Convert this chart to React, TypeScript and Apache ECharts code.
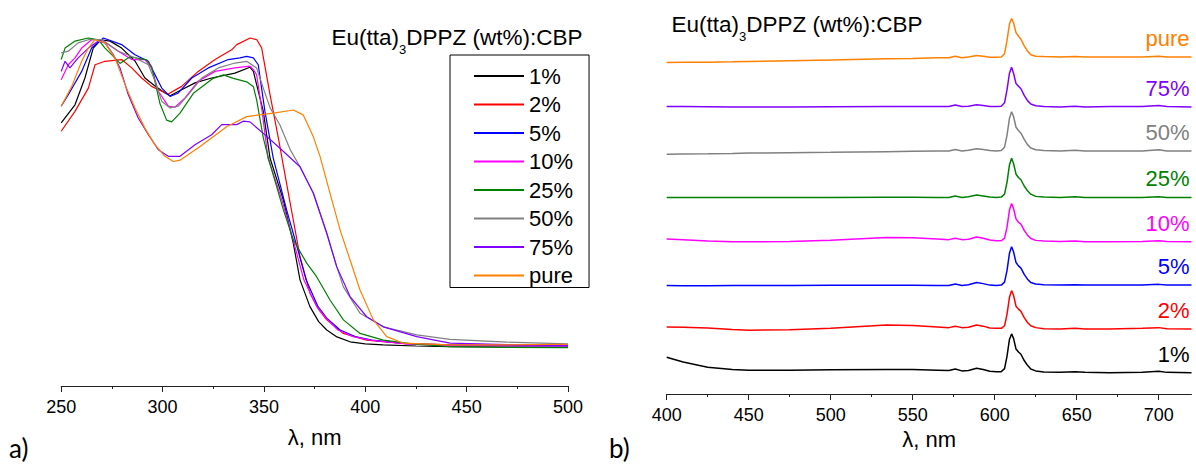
import React, { useEffect, useRef } from "react";
import * as echarts from "echarts";

const NAMES = ["1%", "2%", "5%", "10%", "25%", "50%", "75%", "pure"];
const COLORS = ["#000000", "#ff0000", "#0000ff", "#ff00ff", "#008000", "#808080", "#8000ff", "#ff8000"];

// (a) normalized absorption, [wavelength nm, value]
const ABS_1 = [[250,0.756],[256.8,0.808],[261.7,0.885],[265.8,0.971],[269.6,0.995],[274.1,0.991],[279.8,0.971],[286.4,0.934],[291.3,0.885],[296.3,0.862],[301.2,0.842],[303.7,0.834],[309.4,0.851],[316,0.871],[324.2,0.885],[335.7,0.899],[343.1,0.916],[344.8,0.904],[349.7,0.789],[353,0.655],[359.6,0.534],[364.5,0.41],[367.8,0.305],[372.7,0.228],[377,0.185],[381,0.161],[386,0.141],[392.5,0.127],[400,0.121],[408.8,0.118],[425,0.115],[441.8,0.113],[470,0.112],[500,0.112]];
const ABS_2 = [[250,0.732],[256.8,0.789],[263.4,0.856],[266.7,0.923],[271.6,0.933],[279.8,0.938],[284.8,0.914],[289.7,0.885],[294.6,0.861],[299.6,0.847],[302.8,0.839],[309.4,0.861],[317.6,0.904],[325.9,0.938],[334.1,0.966],[336.6,0.981],[343.2,1.0],[346.5,0.995],[348.9,0.971],[353,0.837],[357.1,0.713],[362.5,0.54],[367.8,0.372],[372.8,0.266],[377,0.22],[381,0.19],[389.2,0.151],[400.7,0.132],[420,0.122],[441.8,0.118],[470,0.117],[500,0.117]];
const ABS_5 = [[250,0.804],[253.5,0.837],[260.1,0.904],[265,0.971],[270.8,1.0],[279.8,0.981],[286.4,0.952],[293,0.933],[296.3,0.894],[299.6,0.856],[303.7,0.832],[307.8,0.842],[314.4,0.885],[322.6,0.914],[332.4,0.938],[338.2,0.943],[341.5,0.947],[344.8,0.943],[347.2,0.923],[350.5,0.789],[354.6,0.655],[361.2,0.506],[365.8,0.411],[370.8,0.305],[376.7,0.228],[381,0.195],[387.6,0.161],[395,0.142],[403.3,0.132],[420,0.122],[441.8,0.118],[470,0.116],[500,0.115]];
const ABS_10 = [[250,0.88],[253.5,0.923],[256.8,0.943],[260.1,0.971],[265,0.995],[270,0.995],[278.2,0.962],[284.8,0.938],[291.3,0.938],[294.6,0.914],[297.9,0.847],[302.8,0.804],[306.1,0.801],[311.1,0.828],[317.6,0.876],[325.9,0.904],[335.7,0.914],[343.1,0.919],[344.8,0.909],[346.4,0.894],[349.1,0.79],[352,0.655],[358.9,0.534],[364.8,0.411],[369.7,0.305],[376.1,0.228],[381,0.193],[386.5,0.161],[394,0.142],[402.3,0.132],[420,0.121],[441.8,0.116],[470,0.115],[500,0.115]];
const ABS_25 = [[250,0.938],[251.9,0.971],[256.8,0.991],[263.4,1.0],[268.3,0.995],[271.6,0.971],[274.9,0.952],[279,0.927],[283.9,0.946],[292.2,0.937],[294.6,0.918],[298.7,0.812],[302,0.764],[304.5,0.759],[308.6,0.784],[315.2,0.841],[325,0.884],[330,0.894],[334.9,0.884],[341.5,0.874],[344.8,0.86],[346.4,0.822],[349.7,0.713],[352.2,0.655],[359.6,0.506],[364.5,0.42],[371.1,0.353],[376,0.314],[382.6,0.247],[389.2,0.19],[397.4,0.151],[408.9,0.132],[425,0.12],[441.8,0.113],[470,0.111],[500,0.11]];
const ABS_50 = [[250,0.957],[253.5,0.962],[258.4,0.986],[263.4,0.995],[270,0.995],[278.2,0.962],[286.4,0.943],[293,0.923],[296.3,0.876],[299.6,0.818],[303.7,0.799],[307.8,0.804],[312.7,0.837],[319.3,0.885],[327.5,0.914],[335.7,0.928],[341.5,0.933],[346.4,0.914],[349.7,0.856],[353,0.8],[357.9,0.75],[362.9,0.68],[367.8,0.63],[374.4,0.554],[381,0.439],[385.9,0.343],[389.2,0.285],[397.4,0.209],[408.9,0.17],[425.4,0.147],[441.8,0.134],[470,0.126],[500,0.121]];
const ABS_75 = [[250,0.904],[251.9,0.933],[254.3,0.914],[258.4,0.943],[263.4,0.971],[268.3,0.991],[271.6,0.986],[275.7,0.952],[279,0.914],[283.1,0.837],[288,0.77],[293,0.722],[297.9,0.679],[302.8,0.66],[308.6,0.66],[316,0.693],[324.2,0.722],[329.2,0.751],[336.6,0.751],[339.8,0.761],[343.1,0.759],[349.7,0.726],[357.9,0.683],[367.8,0.63],[374.4,0.554],[381,0.439],[385.9,0.343],[392.5,0.257],[400.7,0.199],[408.9,0.17],[425.4,0.142],[441.8,0.123],[470,0.119],[500,0.117]];
const ABS_PURE = [[250,0.804],[255.2,0.861],[260.1,0.933],[263.4,0.971],[266.7,0.995],[271.6,0.986],[276.5,0.943],[281.5,0.866],[286.4,0.799],[291.3,0.741],[296.3,0.693],[301.2,0.66],[305.3,0.645],[308.6,0.649],[318.5,0.688],[331.6,0.745],[341.5,0.774],[354.6,0.784],[364.5,0.793],[369.4,0.779],[374.4,0.716],[377.7,0.659],[382.6,0.554],[387.6,0.448],[392.5,0.362],[397.4,0.276],[404,0.19],[410.6,0.142],[418.8,0.123],[441.8,0.118],[470,0.118],[500,0.12]];

// (b) emission spectra, shared wavelength grid
const EM_WL = [400,410,425,440,450,475,500,534,550,565,572,576,580,584,589,593,597,601,604,606,607.5,609,610.3,611.5,613,614.5,616,618,620,622,625,630,640,649,655,670,690,700,705,720];
const EM_1 = [0.42,0.29,0.15,0.09,0.07,0.07,0.08,0.09,0.09,0.07,0.06,0.1,0.05,0.06,0.12,0.09,0.04,0.03,0.03,0.11,0.44,0.9,1.05,0.93,0.64,0.56,0.5,0.33,0.2,0.1,0.05,0.02,0.01,0.03,0.01,0.0,0.01,0.04,0.01,0.0];
const EM_2 = [0.04,0.03,0.01,-0.03,-0.05,-0.04,0.0,0.09,0.08,0.04,0.02,0.06,0.02,0.03,0.09,0.06,0.01,0.0,0.0,0.07,0.38,0.84,1.02,0.89,0.6,0.52,0.46,0.29,0.16,0.07,0.02,-0.01,-0.02,0.0,-0.02,-0.02,0.0,0.02,-0.01,-0.02];
const EM_5 = [-0.04,-0.045,-0.045,-0.04,-0.04,-0.04,-0.035,-0.035,-0.035,-0.04,-0.04,0.0,-0.04,-0.02,0.04,0.01,-0.03,-0.04,-0.03,0.05,0.36,0.83,1.01,0.87,0.58,0.49,0.43,0.26,0.13,0.04,0.0,-0.02,-0.03,-0.02,-0.03,-0.03,-0.03,-0.01,-0.03,-0.03];
const EM_10 = [0.02,0.0,-0.04,-0.06,-0.06,-0.05,-0.02,0.06,0.05,0.02,0.0,0.04,0.0,0.01,0.07,0.04,-0.01,-0.03,-0.03,0.04,0.33,0.8,0.98,0.84,0.56,0.47,0.42,0.25,0.12,0.03,-0.02,-0.04,-0.05,-0.04,-0.06,-0.06,-0.05,-0.03,-0.05,-0.06];
const EM_25 = [-0.06,-0.06,-0.06,-0.06,-0.06,-0.06,-0.06,-0.055,-0.055,-0.06,-0.06,-0.02,-0.06,-0.04,0.01,-0.02,-0.05,-0.06,-0.05,0.03,0.35,0.82,1.0,0.86,0.57,0.48,0.42,0.25,0.12,0.03,-0.03,-0.05,-0.06,-0.04,-0.06,-0.06,-0.06,-0.04,-0.06,-0.06];
const EM_50 = [-0.09,-0.085,-0.08,-0.07,-0.06,-0.05,-0.04,-0.02,-0.01,0.0,0.0,0.04,0.0,0.02,0.06,0.04,0.01,0.0,0.01,0.1,0.42,0.88,1.06,0.93,0.64,0.55,0.48,0.31,0.17,0.08,0.03,0.01,0.0,0.02,0.0,0.0,0.0,0.03,0.0,0.0];
const EM_75 = [0.0,0.0,-0.005,-0.01,-0.01,-0.01,-0.005,0.0,0.0,0.0,0.0,0.04,0.0,0.01,0.05,0.03,0.0,0.0,0.01,0.1,0.45,0.9,1.06,0.9,0.62,0.55,0.48,0.3,0.16,0.07,0.02,0.0,-0.01,0.01,-0.01,0.0,0.0,0.03,0.0,-0.01];
const EM_PURE = [-0.11,-0.105,-0.1,-0.09,-0.08,-0.06,-0.04,-0.01,0.0,0.02,0.02,0.06,0.02,0.04,0.08,0.06,0.03,0.03,0.04,0.13,0.48,0.93,1.08,0.96,0.7,0.6,0.52,0.34,0.2,0.1,0.06,0.05,0.04,0.05,0.04,0.04,0.04,0.06,0.04,0.04];
// vertical stacking offsets of the emission spectra
const EM_OFFSETS = [0, 1.2, 2.4, 3.6, 4.8, 6.0, 7.2, 8.5];

const ABS_MINOR_TICKS = [275, 325, 375, 425, 475];
const EM_TICKS = [400, 450, 500, 550, 600, 650, 700];
const EM_MINOR_TICKS = [425, 475, 525, 575, 625, 675];

const TITLE = "{a|Eu(tta)}{s|3}{a|DPPZ (wt%):CBP}";
const AXIS_NAME = "λ, nm";

const FONT = '"Liberation Sans", Arial, sans-serif';
const AXIS_COLOR = "#222222";

export default function App() {
  const ref = useRef<HTMLDivElement>(null);

  useEffect(() => {
    const chart = echarts.init(ref.current as HTMLDivElement, null, { renderer: "svg" });
    const absData = [ABS_1, ABS_2, ABS_5, ABS_10, ABS_25, ABS_50, ABS_75, ABS_PURE];
    const emData = [EM_1, EM_2, EM_5, EM_10, EM_25, EM_50, EM_75, EM_PURE];

    const series: any[] = [];
    NAMES.forEach((name, i) => {
      series.push({
        type: "line",
        name,
        xAxisIndex: 0,
        yAxisIndex: 0,
        data: absData[i],
        symbol: "none",
        silent: true,
        lineStyle: { width: 1.2, color: COLORS[i] },
        itemStyle: { color: COLORS[i] },
      });
    });
    NAMES.forEach((name, i) => {
      series.push({
        type: "line",
        name,
        xAxisIndex: 1,
        yAxisIndex: 1,
        data: EM_WL.map((w, k) => [w, emData[i][k] + EM_OFFSETS[i]]),
        symbol: "none",
        silent: true,
        lineStyle: { width: 1.5, color: COLORS[i] },
        itemStyle: { color: COLORS[i] },
        endLabel: {
          show: true,
          formatter: name,
          color: COLORS[i],
          fontSize: 22,
          fontFamily: FONT,
          align: "right",
          verticalAlign: "middle",
          distance: 0,
          offset: [-2, -18.5],
        },
      });
    });

    const titleRich = {
      a: { fontSize: 22.5, fontFamily: FONT, fontWeight: "normal", color: "#000", lineHeight: 30, verticalAlign: "top" },
      s: { fontSize: 13, fontFamily: FONT, fontWeight: "normal", color: "#000", lineHeight: 13, verticalAlign: "bottom" },
    };

    const minorAxis = (grid: number, min: number, max: number, values: number[]) => ({
      type: "value",
      gridIndex: grid,
      position: "bottom",
      min,
      max,
      axisLine: { show: false, onZero: false },
      splitLine: { show: false },
      axisLabel: { show: false },
      axisTick: { show: true, length: 3, lineStyle: { color: AXIS_COLOR }, customValues: values },
    });

    const mainAxis = (grid: number, min: number, max: number, gap: number, ticks?: number[]) => ({
      type: "value",
      gridIndex: grid,
      position: "bottom",
      min,
      max,
      interval: 50,
      name: AXIS_NAME,
      nameLocation: "middle",
      nameGap: gap,
      nameTextStyle: { fontSize: 22, fontFamily: FONT, color: "#000" },
      axisLine: { show: true, onZero: false, lineStyle: { color: AXIS_COLOR, width: 1 } },
      splitLine: { show: false },
      axisTick: ticks
        ? { show: true, length: 6, lineStyle: { color: AXIS_COLOR }, customValues: ticks }
        : { show: true, length: 6, lineStyle: { color: AXIS_COLOR } },
      axisLabel: ticks
        ? { fontSize: 18, fontFamily: FONT, color: "#000", margin: 12, customValues: ticks }
        : { fontSize: 18, fontFamily: FONT, color: "#000", margin: 12 },
    });

    chart.setOption({
      animation: false,
      backgroundColor: "#ffffff",
      title: [
        { text: TITLE, left: 331.5, top: 26, padding: 0, textStyle: { fontWeight: "normal", rich: titleRich } },
        { text: TITLE, left: 671.5, top: 12.5, padding: 0, textStyle: { fontWeight: "normal", rich: titleRich } },
      ],
      legend: {
        orient: "vertical",
        left: 450,
        top: 55,
        data: NAMES,
        selectedMode: false,
        itemWidth: 50,
        itemHeight: 12,
        itemGap: 6.5,
        padding: [10, 16, 1, 23],
        borderColor: "#000",
        borderWidth: 1,
        itemStyle: { opacity: 0, borderWidth: 0 },
        textStyle: { fontSize: 22, fontFamily: FONT, color: "#000", lineHeight: 22 },
      },
      grid: [
        { left: 61.2, right: 628, top: 34.5, bottom: 80 },
        { left: 666.7, right: 4.5, top: 3, bottom: 72 },
      ],
      xAxis: [
        mainAxis(0, 250, 500, 40),
        minorAxis(0, 250, 500, ABS_MINOR_TICKS),
        mainAxis(1, 400, 720, 32, EM_TICKS),
        minorAxis(1, 400, 720, EM_MINOR_TICKS),
      ],
      yAxis: [
        { type: "value", gridIndex: 0, min: 0, max: 1.01, show: false },
        { type: "value", gridIndex: 1, min: -0.575, max: 10, show: false },
      ],
      graphic: [
        { type: "text", left: 9, top: 435, style: { text: "a)", fontSize: 26, fontFamily: "Lato, sans-serif", fill: "#000" } },
        { type: "text", left: 609, top: 435, style: { text: "b)", fontSize: 26, fontFamily: "Lato, sans-serif", fill: "#000" } },
      ],
      series: series.map((s) => ({ ...s, xAxisIndex: s.xAxisIndex === 0 ? 0 : 2 })),
    });

    return () => chart.dispose();
  }, []);

  return (
    <div
      ref={ref}
      style={{ position: "absolute", left: 0, top: 0, width: 1196, height: 466, background: "#fff" }}
    />
  );
}
